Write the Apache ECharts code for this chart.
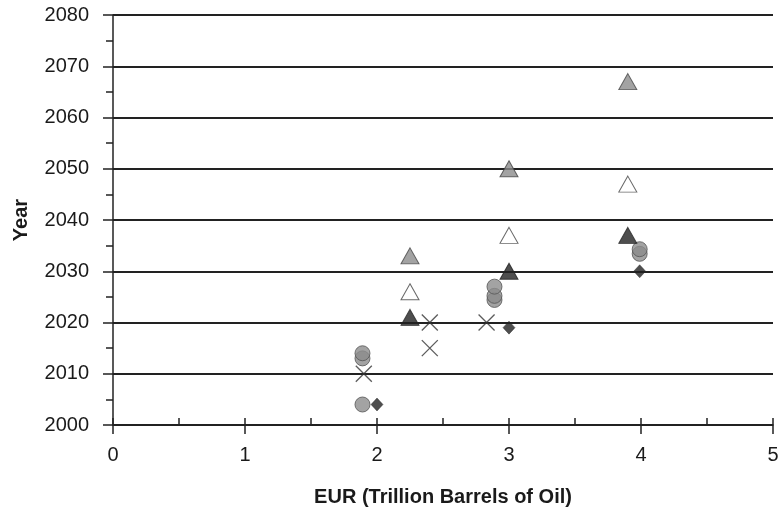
<!DOCTYPE html>
<html><head><meta charset="utf-8">
<script src="https://cdn.jsdelivr.net/npm/echarts@6/dist/echarts.min.js"></script>
<style>html,body{margin:0;padding:0;background:#fff}#c{width:779px;height:508px}</style>
</head><body><div id="c"></div>
<script>
const xTickLabels = ['0','1','2','3','4','5'];
const yTickLabels = ['2000','2010','2020','2030','2040','2050','2060','2070','2080'];
const grayTriangles  = [[2.25,2033],[3.0,2050],[3.9,2067]];
const whiteTriangles = [[2.25,2026],[3.0,2037],[3.9,2047]];
const blackTriangles = [[2.25,2021],[3.0,2030],[3.9,2037]];
const grayCircles    = [[1.89,2004],[1.89,2013],[1.89,2014],[2.89,2024.4],[2.89,2025.2],[2.89,2027],[3.99,2033.4],[3.99,2034.3]];
const diamonds       = [[2.0,2004],[3.0,2019],[3.99,2030]];
const crosses        = [[1.9,2010],[2.4,2015],[2.4,2020],[2.83,2020]];

const chart = echarts.init(document.getElementById('c'));
const font = 'Liberation Sans, Arial, sans-serif';
const axisLine = {show:true, lineStyle:{color:'#222', width:1.5}};
chart.setOption({
  animation:false,
  grid:{left:113, right:6, top:15, bottom:83, outerBoundsMode:'none'},
  xAxis:[{
    type:'value', min:0, max:5, interval:1,
    name:'EUR (Trillion Barrels of Oil)', nameLocation:'middle', nameGap:62,
    nameTextStyle:{fontFamily:font, fontWeight:'bold', fontSize:20, color:'#1a1a1a'},
    axisLine:axisLine,
    axisTick:{show:true, inside:false, length:9, lineStyle:{color:'#222', width:1.5}},
    axisLabel:{fontFamily:font, fontSize:20, color:'#1a1a1a', margin:20,
      formatter:(v)=>xTickLabels[Math.round(v)]},
    splitLine:{show:false}
  },{
    type:'value', min:0, max:5, interval:0.5, position:'bottom',
    axisLine:{show:false},
    axisTick:{show:true, inside:true, length:7, lineStyle:{color:'#222', width:1.5}},
    axisLabel:{show:false}, splitLine:{show:false}
  }],
  yAxis:[{
    type:'value', min:2000, max:2080, interval:10,
    name:'Year', nameLocation:'middle', nameGap:82, nameRotate:90,
    nameTextStyle:{fontFamily:font, fontWeight:'bold', fontSize:20, color:'#1a1a1a'},
    axisLine:axisLine,
    axisTick:{show:true, length:10, lineStyle:{color:'#222', width:1.5}},
    axisLabel:{fontFamily:font, fontSize:20, color:'#1a1a1a', margin:24,
      formatter:(v)=>yTickLabels[Math.round((v-2000)/10)]},
    splitLine:{show:true, lineStyle:{color:'#222', width:1.8}}
  },{
    type:'value', min:2000, max:2080, interval:5, position:'left',
    axisLine:{show:false},
    axisTick:{show:true, length:7, lineStyle:{color:'#222', width:1.5}},
    axisLabel:{show:false}, splitLine:{show:false}
  }],
  series:[
    {type:'scatter', data:crosses, symbol:'path://M0,0L10,10M10,0L0,10', symbolSize:16,
     itemStyle:{color:'none', borderColor:'#333', borderWidth:1.3}},
    {type:'scatter', data:grayCircles, symbol:'circle', symbolSize:15,
     itemStyle:{color:'#8c8c8c', borderColor:'#555', borderWidth:1}},
    {type:'scatter', data:diamonds, symbol:'diamond', symbolSize:[12,13],
     itemStyle:{color:'#222', borderColor:'#222', borderWidth:0.5}},
    {type:'scatter', data:grayTriangles, symbol:'triangle', symbolSize:[18,16],
     itemStyle:{color:'#8c8c8c', borderColor:'#444', borderWidth:1}},
    {type:'scatter', data:whiteTriangles, symbol:'triangle', symbolSize:[18,16],
     itemStyle:{color:'#fff', borderColor:'#444', borderWidth:1}},
    {type:'scatter', data:blackTriangles, symbol:'triangle', symbolSize:[18,16],
     itemStyle:{color:'#222', borderColor:'#222', borderWidth:1}}
  ]
});
</script></body></html>
